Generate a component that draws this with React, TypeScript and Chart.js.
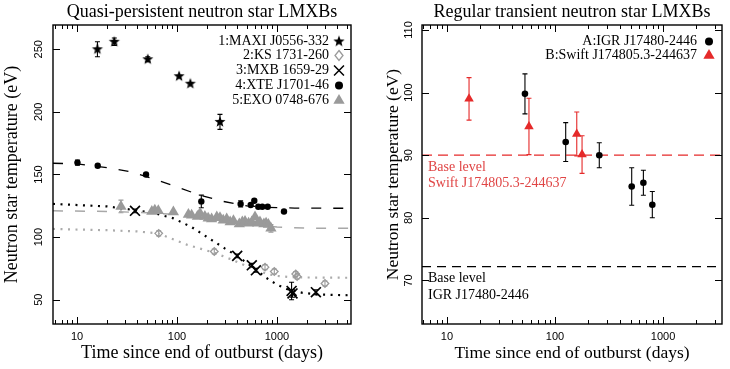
import React, { useEffect, useRef } from 'react';
import { Chart, registerables } from 'chart.js';
Chart.register(...registerables);

// ---------------- shared axis data ----------------
const xTickValues = [10, 100, 1000];
const leftYTicks = [50, 100, 150, 200, 250];
const rightYTicks = [70, 80, 90, 100, 110];
const leftXRange = [5.75, 5500];
const leftYRange = [30.6, 269.4];
const rightXRange = [5.87, 3516];
const rightYRange = [63.04, 110.8];

// ---------------- left panel: quasi-persistent ----------------
const leftLegend = ['1:MAXI J0556-332', '2:KS 1731-260', '3:MXB 1659-29', '4:XTE J1701-46', '5:EXO 0748-676'];

const maxiDays = [16, 23.6, 51, 105, 136, 269];
const maxiTemp = [250, 256, 242, 228.5, 222.5, 192];
const maxiErr = [6, 3, 2, 0, 0, 6];

const ksDays = [65.6, 236, 759, 940, 1540, 1590, 3020];
const ksTemp = [103, 88.5, 76, 72.5, 70.5, 68.5, 63];
const ksErr = [2, 2, 2, 2, 2, 2, 2];

const mxbDays = [38, 400, 560, 615, 1400, 1430, 2450];
const mxbTemp = [121, 85, 77.5, 73.5, 57, 55, 56];
const mxbErr = [1.5, 1.5, 1.5, 1.5, 7, 3, 2];

const xteDays = [10.1, 16.1, 49, 175, 433, 546, 593, 650, 713, 807, 1175];
const xteTemp = [159.5, 157, 150, 128.5, 126.5, 125.7, 129, 124.3, 124.3, 124.3, 120.5];
const xteErr = [2, 0, 0, 5, 2.5, 0, 0, 0, 0, 0, 0];

const exoDays = [27.5, 56, 60, 65, 92, 130, 140, 160, 170, 190, 205, 222, 250, 269, 290, 314, 340, 367, 420, 450, 479, 520, 560, 603, 640, 676, 740, 778, 820, 870];
const exoTemp = [124.5, 120.5, 121.5, 121, 120, 118, 117.5, 116.5, 119, 116.5, 115, 114.5, 116, 115.5, 113.5, 114.5, 112, 113, 110.5, 112, 112.5, 111, 112, 116, 111, 112, 110.5, 111, 110, 107];
const exoErr = [5, 0, 0, 0, 0, 0, 0, 0, 0, 0, 0, 0, 0, 0, 0, 0, 0, 0, 0, 0, 0, 0, 0, 0, 0, 0, 0, 0, 0, 3];

// model curves
const xteModelDays = [5.75, 10, 20, 35, 58, 100, 170, 290, 500, 800, 1500, 5500];
const xteModelTemp = [159, 158.5, 155.5, 152, 146.5, 140, 133.5, 128.5, 125, 123.8, 123.2, 123];
const exoModelDays = [5.75, 20, 50, 100, 200, 400, 700, 1000, 2000, 5500];
const exoModelTemp = [121, 120.5, 119.5, 118, 115.5, 112.5, 109.5, 108, 107.2, 107];
const mxbModelDays = [5.75, 20, 38, 60, 92, 140, 196, 300, 400, 550, 780, 1000, 1300, 1800, 2500, 5500];
const mxbModelTemp = [126.5, 124.5, 121.5, 119, 115, 108, 100.5, 91, 85, 77, 67.5, 62, 58, 55.5, 54.2, 53.5];
const ksModelDays = [5.75, 20, 40, 65, 125, 236, 366, 580, 800, 1000, 1500, 5500];
const ksModelTemp = [106.5, 105.5, 104.5, 103, 94, 87.5, 81.5, 74.5, 70.5, 69, 67.8, 67.5];

// ---------------- right panel: regular transients ----------------
const rightLegend = ['A:IGR J17480-2446', 'B:Swift J174805.3-244637'];
const igrDays = [52.7, 125.6, 257, 513, 658, 796];
const igrTemp = [99.8, 92.1, 90.0, 85.0, 85.6, 82.1];
const igrErr = [3.2, 3.1, 2, 3, 2, 2.1];
const swiftDays = [16, 57.4, 159, 178];
const swiftTemp = [99.0, 94.6, 93.4, 90.1];
const swiftErr = [3.4, 4.5, 3.5, 3];
const baseLevels = [90, 72.2];
const baseLabels = [['Base level', 'Swift J174805.3-244637'], ['Base level', 'IGR J17480-2446']];

const RED = '#e52a2a';
const GREY = '#9a9a9a';
const SERIF = '"Liberation Serif", "Times New Roman", serif';
const SANS = '"Liberation Sans", Arial, sans-serif';

const pts = (xs: number[], ys: number[]) => xs.map((x, i) => ({ x, y: ys[i] }));

function makeStar(r: number): HTMLCanvasElement {
  const c = document.createElement('canvas');
  const s = Math.ceil(r * 2 + 2);
  c.width = s; c.height = s;
  const g = c.getContext('2d')!;
  g.fillStyle = '#000';
  g.beginPath();
  for (let i = 0; i < 10; i++) {
    const rr = i % 2 === 0 ? r : r * 0.42;
    const a = -Math.PI / 2 + (i * Math.PI) / 5;
    const px = s / 2 + rr * Math.cos(a);
    const py = s / 2 + rr * Math.sin(a);
    if (i === 0) g.moveTo(px, py); else g.lineTo(px, py);
  }
  g.closePath();
  g.fill();
  return c;
}

function drawMarker(ctx: CanvasRenderingContext2D, m: any, x: number, y: number) {
  ctx.save();
  ctx.lineWidth = m.lw || 1.3;
  ctx.strokeStyle = m.color;
  ctx.fillStyle = m.color;
  const r = m.r;
  if (m.style === 'star') {
    const img = m.img as HTMLCanvasElement;
    ctx.drawImage(img, x - img.width / 2, y - img.height / 2);
  } else if (m.style === 'circle') {
    ctx.beginPath(); ctx.arc(x, y, r, 0, Math.PI * 2); ctx.fill();
  } else if (m.style === 'triangle') {
    ctx.beginPath();
    ctx.moveTo(x, y - r);
    ctx.lineTo(x + r * Math.sin(2 * Math.PI / 3), y - r * Math.cos(2 * Math.PI / 3));
    ctx.lineTo(x + r * Math.sin(4 * Math.PI / 3), y - r * Math.cos(4 * Math.PI / 3));
    ctx.closePath(); ctx.fill();
  } else if (m.style === 'crossRot') {
    const d = r * Math.SQRT1_2;
    ctx.beginPath();
    ctx.moveTo(x - d, y - d); ctx.lineTo(x + d, y + d);
    ctx.moveTo(x + d, y - d); ctx.lineTo(x - d, y + d);
    ctx.stroke();
  } else if (m.style === 'rectRot') {
    ctx.beginPath();
    ctx.moveTo(x, y - r); ctx.lineTo(x + r * 0.8, y); ctx.lineTo(x, y + r); ctx.lineTo(x - r * 0.8, y);
    ctx.closePath(); ctx.stroke();
  }
  ctx.restore();
}

const panelPlugin = {
  id: 'panel',
  beforeDatasetsDraw(chart: any) {
    const { ctx, scales } = chart;
    const xs = scales.x, ys = scales.y;
    chart.data.datasets.forEach((ds: any) => {
      if (!ds.errorBars) return;
      ctx.save();
      ctx.strokeStyle = ds.errorColor || '#000';
      ctx.lineWidth = 1.1;
      ds.data.forEach((p: any, j: number) => {
        const e = ds.errorBars[j];
        if (!e) return;
        const px = xs.getPixelForValue(p.x);
        const y1 = ys.getPixelForValue(p.y + e);
        const y2 = ys.getPixelForValue(p.y - e);
        ctx.beginPath();
        ctx.moveTo(px, y1); ctx.lineTo(px, y2);
        ctx.moveTo(px - 2.5, y1); ctx.lineTo(px + 2.5, y1);
        ctx.moveTo(px - 2.5, y2); ctx.lineTo(px + 2.5, y2);
        ctx.stroke();
      });
      ctx.restore();
    });
  },
  afterDraw(chart: any, _args: any, opts: any) {
    const { ctx, chartArea: a, scales } = chart;
    const xs = scales.x, ys = scales.y;
    ctx.save();
    const line = (x1: number, y1: number, x2: number, y2: number) => {
      ctx.beginPath(); ctx.moveTo(x1, y1); ctx.lineTo(x2, y2); ctx.stroke();
    };
    ctx.strokeStyle = '#000';
    ctx.lineWidth = 1;
    const xmin = xs.min, xmax = xs.max;
    for (let e = Math.floor(Math.log10(xmin)); e <= Math.ceil(Math.log10(xmax)); e++) {
      for (let k = 1; k <= 9; k++) {
        const v = k * Math.pow(10, e);
        if (v < xmin || v > xmax) continue;
        const px = Math.round(xs.getPixelForValue(v)) + 0.5;
        const len = k === 1 ? 7 : 4;
        line(px, a.bottom, px, a.bottom - len);
        line(px, a.top, px, a.top + len);
      }
    }
    opts.yTicks.forEach((v: number) => {
      const py = Math.round(ys.getPixelForValue(v)) + 0.5;
      line(a.left, py, a.left + 7, py);
      line(a.right, py, a.right - 7, py);
    });
    ctx.lineWidth = 1.4;
    ctx.strokeRect(a.left, a.top, a.right - a.left, a.bottom - a.top);

    ctx.fillStyle = '#000';
    ctx.textAlign = 'center';
    ctx.textBaseline = 'middle';
    ctx.font = `11px ${SANS}`;
    opts.xTicks.forEach((v: number) => {
      ctx.fillText(String(v), xs.getPixelForValue(v), a.bottom + 12.5);
    });
    opts.yTicks.forEach((v: number) => {
      ctx.save();
      ctx.translate(a.left - opts.yTickOffset, ys.getPixelForValue(v));
      ctx.rotate(-Math.PI / 2);
      ctx.fillText(String(v), 0, 0);
      ctx.restore();
    });
    ctx.font = `18px ${SERIF}`;
    ctx.fillText(opts.title, (a.left + a.right) / 2, 12.5);
    ctx.font = `${opts.labelSize}px ${SERIF}`;
    ctx.fillText(opts.xLabel, (a.left + a.right) / 2, 353);
    ctx.save();
    ctx.translate(opts.yLabelX, (a.top + a.bottom) / 2);
    ctx.rotate(-Math.PI / 2);
    ctx.fillText(opts.yLabel, 0, 0);
    ctx.restore();
    ctx.font = `14px ${SERIF}`;
    ctx.textAlign = 'right';
    opts.legend.forEach((it: any) => {
      ctx.fillStyle = '#000';
      ctx.fillText(it.text, opts.legendTextRight, it.y);
      drawMarker(ctx, it.marker, opts.legendMarkerX, it.y);
    });
    ctx.textAlign = 'left';
    (opts.notes || []).forEach((n: any) => {
      ctx.fillStyle = n.color;
      ctx.fillText(n.text, n.x, n.y);
    });
    ctx.restore();
  },
};

function useChart(ref: React.RefObject<HTMLCanvasElement>, build: () => any) {
  useEffect(() => {
    if (!ref.current) return;
    const chart = new Chart(ref.current, build());
    return () => chart.destroy();
  }, []);
}

const curve = (xs: number[], ys: number[], color: string, dash: number[], width: number) => ({
  data: pts(xs, ys),
  showLine: true,
  borderColor: color,
  borderWidth: width,
  borderDash: dash,
  pointRadius: 0,
  fill: false,
  order: 10,
});

function baseOptions(xr: number[], yr: number[], padding: any, plugin: any) {
  return {
    responsive: false,
    animation: false,
    devicePixelRatio: 1,
    layout: { padding },
    scales: {
      x: { type: 'logarithmic', min: xr[0], max: xr[1], display: false },
      y: { type: 'linear', min: yr[0], max: yr[1], display: false },
    },
    plugins: { legend: { display: false }, tooltip: { enabled: false }, title: { display: false }, panel: plugin },
  };
}

export default function App() {
  const leftRef = useRef<HTMLCanvasElement>(null);
  const rightRef = useRef<HTMLCanvasElement>(null);

  useChart(leftRef, () => {
    const star = makeStar(5.8);
    const legendStar = makeStar(6);
    const markers = [
      { style: 'star', img: legendStar, color: '#000' },
      { style: 'rectRot', r: 5, color: GREY, lw: 1.3 },
      { style: 'crossRot', r: 7, color: '#000', lw: 1.5 },
      { style: 'circle', r: 4, color: '#000' },
      { style: 'triangle', r: 6.5, color: GREY },
    ];
    const legendY = [41.5, 55.5, 70.5, 85.5, 100.5];
    return {
      type: 'scatter',
      data: {
        datasets: [
          curve(xteModelDays, xteModelTemp, '#000', [10, 12], 1.3),
          curve(exoModelDays, exoModelTemp, '#a8a8a8', [10, 12], 1.5),
          curve(mxbModelDays, mxbModelTemp, '#000', [2, 5.5], 2.2),
          curve(ksModelDays, ksModelTemp, '#ababab', [2, 5.5], 2.2),
          {
            data: pts(exoDays, exoTemp), pointStyle: 'triangle', pointRadius: 6.5,
            backgroundColor: GREY, borderColor: GREY, borderWidth: 0,
            errorBars: exoErr, errorColor: GREY, order: 5,
          },
          {
            data: pts(ksDays, ksTemp), pointStyle: 'rectRot', pointRadius: 3.8,
            backgroundColor: 'rgba(255,255,255,0)', borderColor: GREY, borderWidth: 1.3,
            errorBars: ksErr, errorColor: GREY, order: 4,
          },
          {
            data: pts(mxbDays, mxbTemp), pointStyle: 'crossRot', pointRadius: 7,
            borderColor: '#000', borderWidth: 1.7, errorBars: mxbErr, errorColor: '#000', order: 3,
          },
          {
            data: pts(xteDays, xteTemp), pointStyle: 'circle', pointRadius: 3.2,
            backgroundColor: '#000', borderColor: '#000', borderWidth: 0,
            errorBars: xteErr, errorColor: '#000', order: 2,
          },
          {
            data: pts(maxiDays, maxiTemp), pointStyle: star, pointRadius: 5,
            errorBars: maxiErr, errorColor: '#000', order: 1,
          },
        ],
      },
      options: baseOptions(leftXRange, leftYRange, { left: 53, right: 14, top: 25, bottom: 45 }, {
        title: 'Quasi-persistent neutron star LMXBs',
        xLabel: 'Time since end of outburst (days)',
        yLabel: 'Neutron star temperature (eV)',
        labelSize: 18,
        yLabelX: 12,
        yTickOffset: 14,
        xTicks: xTickValues,
        yTicks: leftYTicks,
        legendTextRight: 329,
        legendMarkerX: 339,
        legend: leftLegend.map((t, i) => ({ text: t, y: legendY[i], marker: markers[i] })),
      }),
      plugins: [panelPlugin],
    };
  });

  useChart(rightRef, () => {
    const xr = rightXRange;
    const markers = [
      { style: 'circle', r: 4, color: '#000' },
      { style: 'triangle', r: 6.5, color: RED },
    ];
    const legendY = [41.5, 55.5];
    return {
      type: 'scatter',
      data: {
        datasets: [
          curve([xr[0], xr[1]], [baseLevels[0], baseLevels[0]], RED, [10, 6], 1.2),
          curve([xr[0], xr[1]], [baseLevels[1], baseLevels[1]], '#000', [9, 6], 1.2),
          {
            data: pts(swiftDays, swiftTemp), pointStyle: 'triangle', pointRadius: 5.5,
            backgroundColor: RED, borderColor: RED, borderWidth: 0,
            errorBars: swiftErr, errorColor: RED, order: 2,
          },
          {
            data: pts(igrDays, igrTemp), pointStyle: 'circle', pointRadius: 3.3,
            backgroundColor: '#000', borderColor: '#000', borderWidth: 0,
            errorBars: igrErr, errorColor: '#000', order: 1,
          },
        ],
      },
      options: baseOptions(rightXRange, rightYRange, { left: 57, right: 8, top: 25, bottom: 45 }, {
        title: 'Regular transient neutron star LMXBs',
        xLabel: 'Time since end of outburst (days)',
        yLabel: 'Neutron star temperature (eV)',
        labelSize: 17.5,
        yLabelX: 28,
        yTickOffset: 13,
        xTicks: xTickValues,
        yTicks: rightYTicks,
        legendTextRight: 332,
        legendMarkerX: 344,
        legend: rightLegend.map((t, i) => ({ text: t, y: legendY[i], marker: markers[i] })),
        notes: [
          { text: baseLabels[0][0], x: 63, y: 167, color: '#e04545' },
          { text: baseLabels[0][1], x: 63, y: 183.5, color: '#e04545' },
          { text: baseLabels[1][0], x: 63, y: 278, color: '#000' },
          { text: baseLabels[1][1], x: 63, y: 295, color: '#000' },
        ],
      }),
      plugins: [panelPlugin],
    };
  });

  return (
    <div style={{ position: 'absolute', left: 0, top: 0, width: 730, height: 369, background: '#fff' }}>
      <canvas ref={leftRef} width={365} height={369} style={{ position: 'absolute', left: 0, top: 0, width: 365, height: 369 }} />
      <canvas ref={rightRef} width={365} height={369} style={{ position: 'absolute', left: 365, top: 0, width: 365, height: 369 }} />
    </div>
  );
}
